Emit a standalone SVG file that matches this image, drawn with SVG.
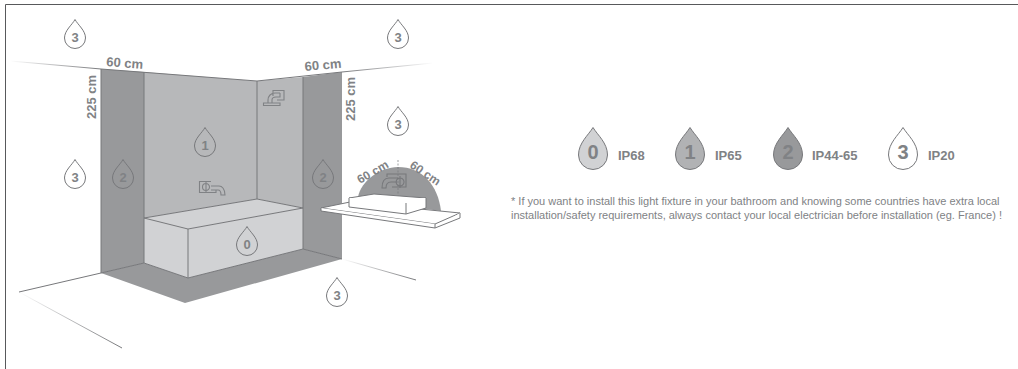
<svg xmlns="http://www.w3.org/2000/svg" width="1018" height="369" viewBox="0 0 1018 369">
<style>
text{font-family:"Liberation Sans",Arial,sans-serif;fill:#808285}
.d{font-weight:bold;font-size:13px}
.n{font-weight:bold;font-size:13px;text-anchor:middle}
.b{font-weight:bold;font-size:20px;text-anchor:middle}
.l{font-weight:bold;font-size:13px}
.t{font-size:11px;fill:#808285}
.e{fill:none;stroke:#77787b;stroke-width:1}
.ic{fill:none;stroke:#808285;stroke-width:1.1}
</style>
<defs>
<path id="drop" d="M0-14.500C3-9 10.500-3.500 10.500 4A10.500 10.500 0 0 1-10.500 4C-10.500-3.500-3-9 0-14.500Z" stroke="#77787b" stroke-width="1"/>
<path id="big" d="M0-21.500C4.500-14 14.500-6 14.500 6A14.500 14.500 0 0 1-14.500 6C-14.500-6-4.500-14 0-21.500Z" stroke="#77787b" stroke-width="1"/>
<linearGradient id="g1" gradientUnits="userSpaceOnUse" x1="10" y1="61" x2="101" y2="69"><stop offset="0" stop-color="#77787b" stop-opacity="0"/><stop offset="1" stop-color="#77787b"/></linearGradient>
<linearGradient id="g2" gradientUnits="userSpaceOnUse" x1="433" y1="63" x2="342" y2="72"><stop offset="0" stop-color="#77787b" stop-opacity="0"/><stop offset="1" stop-color="#77787b"/></linearGradient>
<linearGradient id="g3" gradientUnits="userSpaceOnUse" x1="19" y1="292" x2="122" y2="348"><stop offset="0" stop-color="#77787b" stop-opacity="0"/><stop offset="1" stop-color="#77787b"/></linearGradient>
<linearGradient id="g4" gradientUnits="userSpaceOnUse" x1="342" y1="259" x2="416" y2="280"><stop offset="0" stop-color="#77787b" stop-opacity="0"/><stop offset="1" stop-color="#77787b"/></linearGradient>
</defs>
<g id="frame"><path d="M5.500 369V4.500H1018" fill="none" stroke="#58595b" stroke-width="1"/></g>
<g id="room">
<path d="M144 72L257 81V199L144 218Z" fill="#b7b8ba"/>
<path d="M257 81L303 77V208L257 199Z" fill="#b7b8ba"/>
<path d="M101 69L144 72V263L101 273Z" fill="#98999b"/>
<path d="M303 77L342 72V259L303 249Z" fill="#98999b"/>
<path d="M101 273L144 263L188 278L303 249L342 259L185 303Z" fill="#98999b"/>
<path d="M144 218L257 199L303 208L188 229Z" fill="#d1d2d4"/>
<path d="M144 218L188 229V278L144 263Z" fill="#d1d2d4"/>
<path d="M188 229L303 208V249L188 278Z" fill="#d1d2d4"/>
<path class="e" d="M101 69V273M144 72V263M257 81V199M303 77V249M144 218L257 199L303 208L188 229ZM188 229V278M144 263L188 278L303 249M144 263L101 273M303 249L342 259"/>
</g>
<g id="lines">
<path d="M10 61L101 69" stroke="url(#g1)" fill="none"/>
<path class="e" d="M101 69L257 81L342 72M101 273L19 292"/>
<path d="M433 63L342 72" stroke="url(#g2)" fill="none"/>
<path d="M19 292L122 348" stroke="url(#g3)" fill="none"/>
<path d="M342 259L416 280" stroke="url(#g4)" fill="none"/>
</g>
<g id="sink">
<path d="M358 197C361 181 380 167 398 167C422 167 438 185 441 211L358 200Z" fill="#98999b"/>
<path d="M398 160V196" stroke="#77787b" stroke-width=".7" stroke-dasharray="2 1.500" fill="none"/>
<g class="ic" style="stroke:#77787b"><path d="M387 177V174H406V187H392M400 178A4 4 0 1 0 400.100 178M400 176V188M398 178H389C385 178 382 181 382 188H386C386 184 388 182 391 182H397"/></g>
<path d="M321 208L350 202L460 213L435 224Z" fill="#fff" stroke="#77787b"/>
<path d="M321 208V211L435 228V224M435 228L460 218V213" fill="#fff" stroke="#77787b"/>
<path d="M349 198L374 194L426 198L406 203Z" fill="#fff" stroke="#77787b"/>
<path d="M349 198V207L406 214L426 208V198M406 203V214" fill="#fff" stroke="#77787b"/>
</g>
<g id="tap-bath" class="ic"><path d="M211 181.500H199.500V192.500H216V190M206 187m3.500 0a3.500 3.500 0 1 1-7 0a3.500 3.500 0 1 1 7 0M206 182V192M211 186H219C222 186 225 189 225 195H221C221 192 220 190 218 190H211"/></g>
<g id="tap-shower" class="ic"><path d="M273 96V90.500H284V100H277M268 103V100C268 96 271 93 275 93H280M272 103V100C272 98 274 97 276 97H280V93M263.500 103H280V105.500H263.500Z"/></g>
<g id="zones">
<g id="z1"><use href="#drop" x="75" y="34" fill="#fff"/><text class="n" x="75" y="42">3</text></g>
<g id="z2"><use href="#drop" x="75" y="174" fill="none"/><text class="n" x="75" y="182">3</text></g>
<g id="z3"><use href="#drop" x="123" y="174" fill="none"/><text class="n" x="123" y="182">2</text></g>
<g id="z4"><use href="#drop" x="205" y="142" fill="none"/><text class="n" x="205" y="150">1</text></g>
<g id="z5"><use href="#drop" x="398" y="34" fill="none"/><text class="n" x="398" y="42">3</text></g>
<g id="z6"><use href="#drop" x="398" y="121" fill="none"/><text class="n" x="398" y="129">3</text></g>
<g id="z7"><use href="#drop" x="323" y="174" fill="none"/><text class="n" x="323" y="182">2</text></g>
<g id="z8"><use href="#drop" x="247" y="241" fill="none"/><text class="n" x="247" y="249">0</text></g>
<g id="z9"><use href="#drop" x="337" y="292" fill="none"/><text class="n" x="337" y="300">3</text></g>
</g>
<g id="dims">
<text class="d" transform="translate(106 66) rotate(4.500)">60 cm</text>
<text class="d" transform="translate(305 71) rotate(-5)">60 cm</text>
<text class="d" transform="translate(96 119) rotate(-90)">225 cm</text>
<text class="d" transform="translate(355 121) rotate(-90)">225 cm</text>
<text class="d" style="font-size:12px" transform="translate(360 184) rotate(-30)">60 cm</text>
<text class="d" style="font-size:12px" transform="translate(409 167) rotate(34)">60 cm</text>
</g>
<g id="legend">
<g id="l0"><use href="#big" x="593" y="149" fill="#d1d2d4"/><text class="b" x="593" y="159">0</text><text class="l" x="618" y="160">IP68</text></g>
<g id="l1"><use href="#big" x="690" y="149" fill="#b1b2b4"/><text class="b" x="690" y="159">1</text><text class="l" x="715" y="160">IP65</text></g>
<g id="l2"><use href="#big" x="788" y="149" fill="#98999b"/><text class="b" x="788" y="159">2</text><text class="l" x="812" y="160">IP44-65</text></g>
<g id="l3"><use href="#big" x="903" y="149" fill="#fff"/><text class="b" x="903" y="159">3</text><text class="l" x="928" y="160">IP20</text></g>
</g>
<g id="note">
<text class="t" x="511" y="205">* If you want to install this light fixture in your bathroom and knowing some countries have extra local</text>
<text class="t" x="511" y="219">installation/safety requirements, always contact your local electrician before installation (eg. France) !</text>
</g>
</svg>
